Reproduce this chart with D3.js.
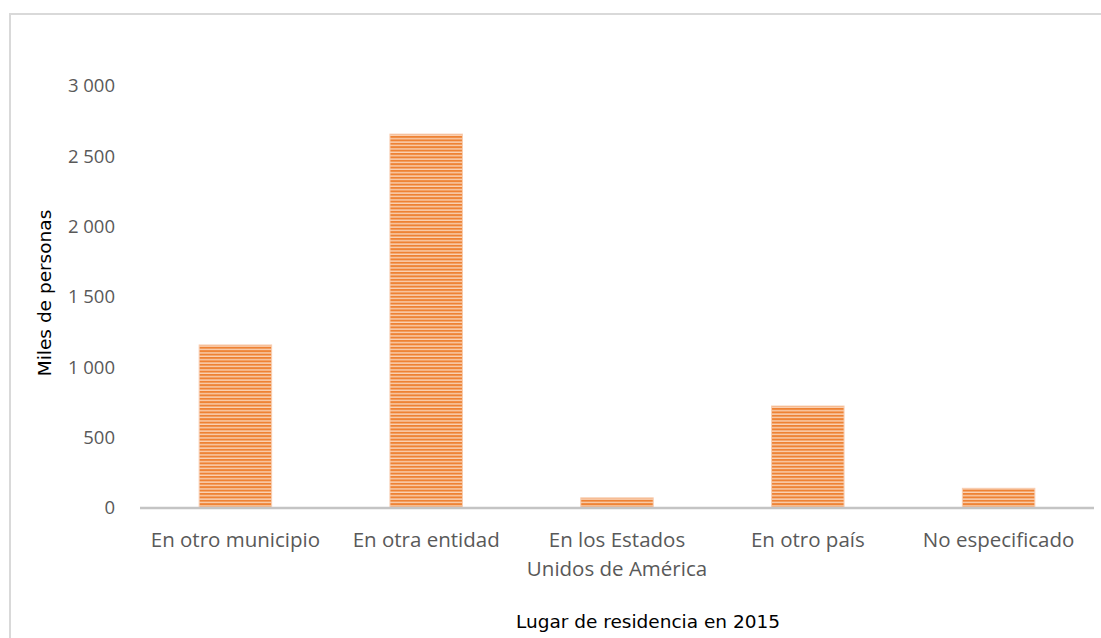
<!DOCTYPE html>
<html><head><meta charset="utf-8">
<script src="https://cdn.jsdelivr.net/npm/d3@7"></script>
<style>body{margin:0;background:#fff;}svg{display:block;}</style>
</head><body>
<script>
const categories = ["En otro municipio", "En otra entidad", "En los Estados Unidos de América", "En otro país", "No especificado"];
const categoryLines = [["En otro municipio"], ["En otra entidad"], ["En los Estados", "Unidos de América"], ["En otro país"], ["No especificado"]];
const values = [1159, 2658, 72, 725, 140];
const yTicks = [0, 500, 1000, 1500, 2000, 2500, 3000];
const yTitle = "Miles de personas";
const xTitle = "Lugar de residencia en 2015";

const W = 1101, H = 638;
const svg = d3.select("body").append("svg").attr("width", W).attr("height", H);

svg.append("rect").attr("x", 10).attr("y", 14).attr("width", W + 10).attr("height", H + 10)
  .attr("fill", "none").attr("stroke", "#d9d9d9").attr("stroke-width", 2);

const defs = svg.append("defs");
const pat = defs.append("pattern").attr("id", "stripes").attr("patternUnits", "userSpaceOnUse")
  .attr("width", 10).attr("height", 3.4);
pat.append("rect").attr("width", 10).attr("height", 3.4).attr("fill", "#fad2b5");
pat.append("rect").attr("y", 0).attr("width", 10).attr("height", 2).attr("fill", "#ee8234");

const m = {left: 140, right: 1094, top: 86, bottom: 508};
const x = d3.scaleBand().domain(categories).range([m.left, m.right]).paddingInner(0.62).paddingOuter(0.31);
const y = d3.scaleLinear().domain([0, 3000]).range([m.bottom, m.top]);

svg.selectAll(".bar").data(values).enter().append("rect")
  .attr("x", (d, i) => x(categories[i]))
  .attr("y", d => y(d))
  .attr("width", x.bandwidth())
  .attr("height", d => y(0) - y(d))
  .attr("fill", "url(#stripes)")
  .attr("stroke", "#f8cdb0").attr("stroke-width", 1);

// y axis
const yAxis = d3.axisLeft(y).tickValues(yTicks).tickSize(0).tickPadding(0)
  .tickFormat(d => d3.format(",")(d).replace(/,/g, " "));
const ya = svg.append("g").attr("transform", "translate(115,0)").call(yAxis);
ya.select(".domain").remove();
ya.selectAll("text").attr("fill", "#595959").attr("font-family", "Open Sans").style("font-family", "'Open Sans', sans-serif").style("font-size", "18.5px");

// x axis line
svg.append("line").attr("x1", m.left).attr("x2", m.right).attr("y1", y(0)).attr("y2", y(0))
  .attr("stroke", "#c4c4c4").attr("stroke-width", 2.5);

// x labels
const xl = svg.append("g");
categories.forEach((c, i) => {
  const cx = x(c) + x.bandwidth() / 2;
  const t = xl.append("text").attr("x", cx).attr("y", 547)
    .attr("text-anchor", "middle").attr("fill", "#595959")
    .style("font-family", "'Open Sans', sans-serif").style("font-size", "20.5px");
  categoryLines[i].forEach((ln, j) => {
    t.append("tspan").attr("x", cx).attr("dy", j === 0 ? 0 : 29).text(ln);
  });
});

svg.append("text").attr("transform", "translate(51,293) rotate(-90)").attr("text-anchor", "middle")
  .attr("fill", "#000").style("font-family", "'DejaVu Sans', sans-serif").style("font-size", "18.5px").text(yTitle);

svg.append("text").attr("x", 648).attr("y", 628).attr("text-anchor", "middle")
  .attr("fill", "#000").style("font-family", "'DejaVu Sans', sans-serif").style("font-size", "18.5px").text(xTitle);
</script>
</body></html>
